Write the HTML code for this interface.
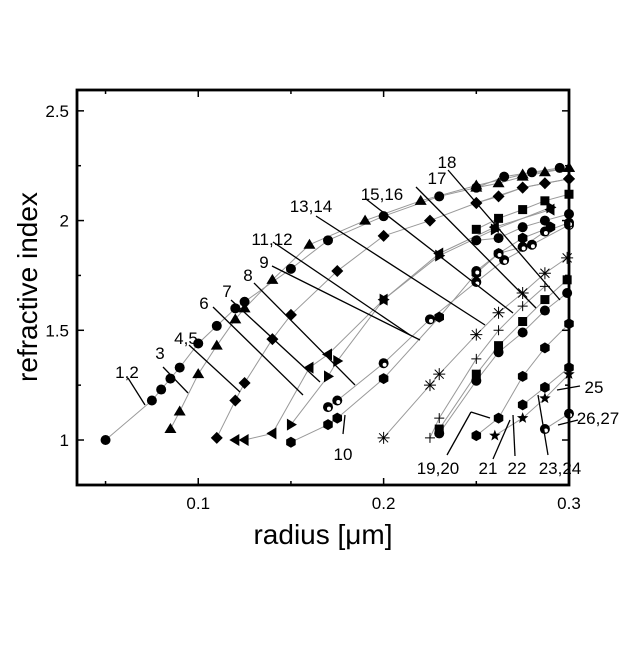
<!DOCTYPE html>
<html><head><meta charset="utf-8"><style>
body{margin:0;background:#fff;}
svg text{font-family:"Liberation Sans",sans-serif;fill:#000;}
</style></head><body>
<svg id="chart" width="640" height="640" viewBox="0 0 640 640">
<g id="lines"></g><g id="marks"></g><g id="labels"></g><g id="axes"></g>
</svg>
<script>
const X0=0.0346,X1=0.3,Y0=0.795,Y1=2.595;
const PL=77,PR=569,PT=90,PB=485;
function sx(v){return PL+(v-X0)/(X1-X0)*(PR-PL);}
function sy(v){return PB-(v-Y0)/(Y1-Y0)*(PB-PT);}
const xTicks=[0.05,0.1,0.15,0.2,0.25,0.3];
const xTickLabels=["","0.1","","0.2","","0.3"];
const yTicks=[1,1.25,1.5,1.75,2,2.25,2.5];
const yTickLabels=["1","","1.5","","2","","2.5"];
const seriesNames=["s1-2","s3","s4-5","s6","s7","s8","s9","s11-12","s13-14","s15-16","s17","s19-20","s21","s22","s23-24","s-up1","s-up2","s-up3","s-up4","s-up5"];
const seriesMarkers=["circle","tri","diamond","ltri","rtri","hex","half","ast","plus","square","circle","hex","star","hex","half","tri","diamond","square","circle","half"];
const seriesX=[
[0.05,0.075,0.08,0.085,0.09,0.1,0.11,0.12,0.125,0.15,0.17,0.2,0.23,0.25,0.265,0.28,0.295],
[0.085,0.09,0.1,0.11,0.12,0.125,0.14,0.16,0.19,0.22,0.25,0.275,0.3],
[0.11,0.12,0.125,0.14,0.15,0.175,0.2,0.225,0.25,0.275,0.3],
[0.12,0.125,0.14,0.16,0.17,0.2,0.23,0.26,0.29],
[0.15,0.17,0.175,0.2,0.23,0.26,0.29],
[0.15,0.17,0.175,0.2,0.23,0.25,0.262,0.275,0.29],
[0.17,0.175,0.2,0.225,0.25,0.265,0.28,0.3],
[0.2,0.225,0.23,0.25,0.262,0.275,0.287,0.299],
[0.225,0.23,0.25,0.262,0.275,0.287],
[0.23,0.25,0.262,0.275,0.287,0.299],
[0.23,0.25,0.262,0.275,0.287,0.299],
[0.25,0.262,0.275,0.287,0.3],
[0.26,0.275,0.287,0.3],
[0.275,0.287,0.3],
[0.287,0.3],
[0.25,0.262,0.275,0.287,0.3],
[0.25,0.262,0.275,0.287,0.3],
[0.25,0.262,0.275,0.287,0.3],
[0.25,0.262,0.275,0.287,0.3],
[0.25,0.262,0.275,0.287,0.3]];
const seriesY=[
[1.0,1.18,1.23,1.28,1.33,1.44,1.52,1.6,1.63,1.78,1.91,2.02,2.11,2.15,2.2,2.22,2.24],
[1.05,1.13,1.3,1.43,1.55,1.6,1.73,1.89,2.0,2.09,2.16,2.21,2.24],
[1.01,1.18,1.26,1.46,1.57,1.77,1.93,2.0,2.08,2.15,2.19],
[1.0,1.0,1.03,1.33,1.39,1.64,1.85,1.97,2.05],
[1.07,1.29,1.36,1.64,1.84,1.96,2.06],
[0.99,1.07,1.1,1.28,1.56,1.76,1.85,1.92,1.97],
[1.15,1.18,1.35,1.55,1.72,1.82,1.89,1.98],
[1.01,1.25,1.3,1.48,1.58,1.67,1.76,1.83],
[1.01,1.1,1.37,1.5,1.61,1.7],
[1.05,1.3,1.43,1.54,1.64,1.73],
[1.03,1.27,1.4,1.49,1.59,1.67],
[1.02,1.1,1.29,1.42,1.53],
[1.02,1.1,1.19,1.3],
[1.16,1.24,1.33],
[1.05,1.12],
[2.15,2.17,2.2,2.22,2.24],
[2.08,2.11,2.15,2.17,2.19],
[1.96,2.01,2.05,2.09,2.12],
[1.91,1.92,1.97,2.0,2.03],
[1.77,1.85,1.88,1.95,1.99]];
const labelTexts=["1,2","3","4,5","6","7","8","9","11,12","13,14","15,16","17","18","10","19,20","21","22","23,24","25","26,27"];
const NS="http://www.w3.org/2000/svg";
function mk(t,a,p){const e=document.createElementNS(NS,t);for(const k in a)e.setAttribute(k,a[k]);p.appendChild(e);return e;}
const gl=document.getElementById('lines'),gm=document.getElementById('marks'),glab=document.getElementById('labels'),ga=document.getElementById('axes');
function marker(type,x,y,g){
 const r=5;let e;
 if(type==="circle"||type==="half"){e=mk('circle',{cx:x,cy:y,r:r,fill:'#000'},g);if(type==="half")mk('circle',{cx:x+1,cy:y+1.5,r:2,fill:'#fff'},g);}
 else if(type==="tri")e=mk('polygon',{points:`${x},${y-6} ${x-6},${y+4} ${x+6},${y+4}`,fill:'#000'},g);
 else if(type==="ltri")e=mk('polygon',{points:`${x-6},${y} ${x+4},${y-6} ${x+4},${y+6}`,fill:'#000'},g);
 else if(type==="rtri")e=mk('polygon',{points:`${x+6},${y} ${x-4},${y-6} ${x-4},${y+6}`,fill:'#000'},g);
 else if(type==="diamond")e=mk('polygon',{points:`${x},${y-6} ${x+6},${y} ${x},${y+6} ${x-6},${y}`,fill:'#000'},g);
 else if(type==="square")e=mk('rect',{x:x-4.5,y:y-4.5,width:9,height:9,fill:'#000'},g);
 else if(type==="hex"){let p=[];for(let i=0;i<6;i++){const a=Math.PI/3*i+Math.PI/6;p.push((x+5.5*Math.cos(a))+','+(y+5.5*Math.sin(a)));}e=mk('polygon',{points:p.join(' '),fill:'#000'},g);}
 else if(type==="star"){let p=[];for(let i=0;i<10;i++){const a=Math.PI/5*i-Math.PI/2,rr=i%2?2.5:6;p.push((x+rr*Math.cos(a))+','+(y+rr*Math.sin(a)));}e=mk('polygon',{points:p.join(' '),fill:'#000'},g);}
 else if(type==="plus"){e=mk('path',{d:`M${x-5} ${y}H${x+5}M${x} ${y-5}V${y+5}`,stroke:'#000','stroke-width':1},g);}
 else if(type==="ast"){e=mk('path',{d:`M${x-6} ${y}H${x+6}M${x} ${y-6}V${y+6}M${x-4.5} ${y-4.5}L${x+4.5} ${y+4.5}M${x-4.5} ${y+4.5}L${x+4.5} ${y-4.5}`,stroke:'#000','stroke-width':1},g);}
 return e;
}
seriesX.forEach((xs,i)=>{
 const ys=seriesY[i];
 const pl=mk('polyline',{points:xs.map((v,j)=>sx(v)+','+sy(ys[j])).join(' '),fill:'none',stroke:'#999','stroke-width':1},gl);
 
 
 const g=mk('g',{},gm);
 
 
 xs.forEach((v,j)=>marker(seriesMarkers[i],sx(v),sy(ys[j]),g));
});
const labelPos=[[127,378,128,378,145,405],[160,359,163,367,188,393],[186,344,189,345,240,392],[204,309,213,307,303,395],[227,297,231,300,320,382],[248,281,254,283,355,385],[264,268,272,266,420,340],[272,245,273,242,410,335],[311,212,316,216,485,325],[382,200,366,199,513,313],[437,184,416,187,536,308],[447,168,448,170,560,300],[343,460,343,434,345,415],[438,474,447,455,471,412],[488,474,493,459,510,420],[517,474,515,456,513,415],[560,474,548,455,538,395],[594,393,557,390,580,386],[598,424,558,425,578,420]];
labelPos.forEach((p,i)=>{
 const ln=mk('line',{x1:p[2],y1:p[3],x2:p[4],y2:p[5],stroke:'#000','stroke-width':1.3},glab);
 
 
 const t=mk('text',{x:p[0],y:p[1],'text-anchor':'middle','font-size':17},glab);
 t.textContent=labelTexts[i];
 
 
});
mk('polyline',{points:'471,412 490,418',stroke:'#000','stroke-width':1.3,fill:'none'},glab);
const fr=mk('rect',{x:PL,y:PT,width:PR-PL,height:PB-PT,fill:'none',stroke:'#000','stroke-width':2.8},ga);


xTicks.forEach((v,i)=>{const x=sx(v),L=xTickLabels[i]?7:4;
 mk('line',{x1:x,y1:PB,x2:x,y2:PB-L,stroke:'#000','stroke-width':1.5},ga);
 mk('line',{x1:x,y1:PT,x2:x,y2:PT+L,stroke:'#000','stroke-width':1.5},ga);
 if(xTickLabels[i]){const t=mk('text',{x:x,y:PB+24,'text-anchor':'middle','font-size':17},ga);t.textContent=xTickLabels[i];
 
 }
});
yTicks.forEach((v,i)=>{const y=sy(v),L=yTickLabels[i]?7:4;
 mk('line',{x1:PL,y1:y,x2:PL+L,y2:y,stroke:'#000','stroke-width':1.5},ga);
 mk('line',{x1:PR,y1:y,x2:PR-L,y2:y,stroke:'#000','stroke-width':1.5},ga);
 if(yTickLabels[i]){const t=mk('text',{x:PL-8,y:y+6,'text-anchor':'end','font-size':17},ga);t.textContent=yTickLabels[i];
 
 }
});
const xt=mk('text',{x:323,y:544,'text-anchor':'middle','font-size':28},ga);xt.textContent="radius [μm]";


const yt=mk('text',{x:0,y:0,'text-anchor':'middle','font-size':28,transform:'translate(37,287) rotate(-90)'},ga);yt.textContent="refractive index";


</script>
</body></html>
